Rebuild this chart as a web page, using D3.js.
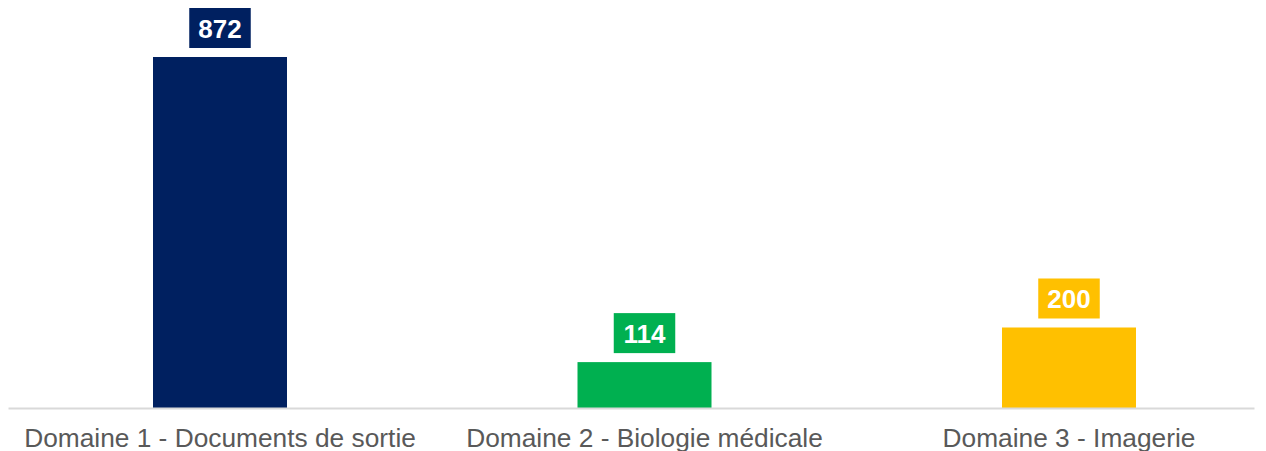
<!DOCTYPE html>
<html>
<head>
<meta charset="utf-8">
<script src="https://cdn.jsdelivr.net/npm/d3@7"></script>
<style>
  html, body { margin: 0; padding: 0; background: #ffffff; }
  svg { display: block; }
</style>
</head>
<body>
<svg id="chart" width="1266" height="451"></svg>
<script>
const categories = ["Domaine 1 - Documents de sortie", "Domaine 2 - Biologie médicale", "Domaine 3 - Imagerie"];
const values = [872, 114, 200];
const colors = ["#002060", "#00B050", "#FFC000"];

const svg = d3.select("#chart");
const baseY = 408;

const x = d3.scalePoint().domain(categories).range([220, 1069]);
const y = d3.scaleLinear().domain([0, 872]).range([baseY, 57]);
const barW = 134;

const data = categories.map((c, i) => ({ c, v: values[i], col: colors[i] }));

svg.selectAll("rect.bar").data(data).enter().append("rect")
  .attr("class", "bar")
  .attr("x", d => x(d.c) - barW / 2)
  .attr("width", barW)
  .attr("y", d => y(d.v))
  .attr("height", d => baseY - y(d.v))
  .attr("fill", d => d.col);

// axis line
const axis = d3.axisBottom(d3.scaleLinear().range([8, 1254])).ticks(0).tickSize(0);
const ag = svg.append("g").attr("transform", `translate(0,${baseY})`).call(axis);
ag.select(".domain").attr("stroke", "#d9d9d9").attr("stroke-width", 2);
ag.selectAll("text").remove();

// category labels
svg.selectAll("text.cat").data(data).enter().append("text")
  .attr("class", "cat")
  .attr("x", d => x(d.c))
  .attr("y", 447)
  .attr("text-anchor", "middle")
  .attr("font-family", "Liberation Sans, Arial, sans-serif")
  .attr("font-size", 26.3)
  .attr("fill", "#595959")
  .text(d => d.c);

// data labels
const lblH = 40, gap = 9;
const lg = svg.selectAll("g.lbl").data(data).enter().append("g").attr("class", "lbl");
lg.append("rect")
  .attr("x", d => x(d.c) - (String(d.v).length * 14.5 + 18) / 2)
  .attr("width", d => String(d.v).length * 14.5 + 18)
  .attr("y", d => y(d.v) - gap - lblH)
  .attr("height", lblH)
  .attr("fill", d => d.col);
lg.append("text")
  .attr("x", d => x(d.c))
  .attr("y", d => y(d.v) - gap - lblH / 2 + 9.5)
  .attr("text-anchor", "middle")
  .attr("font-family", "Liberation Sans, Arial, sans-serif")
  .attr("font-weight", "bold")
  .attr("font-size", 26)
  .attr("fill", "#ffffff")
  .text(d => d.v);
</script>
</body>
</html>
